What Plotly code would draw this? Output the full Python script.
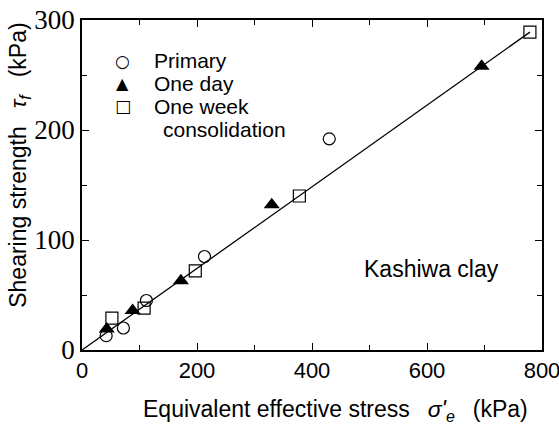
import plotly.graph_objects as go

# Data
primary_x = [42, 72, 112, 213, 430]
primary_y = [13, 20, 45, 85, 192]
oneday_x = [43, 88, 172, 330, 695]
oneday_y = [19, 36, 63, 132, 258]
oneweek_x = [52, 108, 197, 378, 779]
oneweek_y = [29, 38, 72, 140, 289]
fit_x = [0, 779]
fit_y = [0, 289]
x_ticks = [0, 200, 400, 600, 800]
y_ticks = [0, 100, 200, 300]

legend_symbols = ["○", "▲", "□"]
legend_labels = ["Primary", "One day", "One week"]
legend_extra = "consolidation"

SANS = "Liberation Sans, Arial, sans-serif"
SERIF = "Liberation Serif, Times New Roman, serif"

fig = go.Figure()
fig.add_trace(go.Scatter(x=fit_x, y=fit_y, mode="lines",
                         line=dict(color="black", width=1.3), showlegend=False, hoverinfo="skip"))
fig.add_trace(go.Scatter(x=primary_x, y=primary_y, mode="markers", name="Primary", showlegend=False,
                         marker=dict(symbol="circle-open", size=12, color="black", line=dict(width=1.2))))
fig.add_trace(go.Scatter(x=oneday_x, y=oneday_y, mode="markers", name="One day", showlegend=False,
                         marker=dict(symbol="triangle-up", size=14, color="black")))
fig.add_trace(go.Scatter(x=oneweek_x, y=oneweek_y, mode="markers", name="One week consolidation",
                         showlegend=False,
                         marker=dict(symbol="square-open", size=12, color="black", line=dict(width=1.2))))

# Legend drawn as text (rows at fixed paper positions)
row_y = [0.876, 0.807, 0.738]
sym_sizes = [17, 16, 17]
for sym, lab, yy, ss in zip(legend_symbols, legend_labels, row_y, sym_sizes):
    fig.add_annotation(xref="paper", yref="paper", x=0.089, y=yy, text=sym, showarrow=False,
                       xanchor="center", yanchor="middle",
                       font=dict(family="DejaVu Sans", size=ss, color="black"))
    fig.add_annotation(xref="paper", yref="paper", x=0.154, y=yy, text=lab, showarrow=False,
                       xanchor="left", yanchor="middle", borderpad=0,
                       font=dict(family=SANS, size=21, color="black"))
fig.add_annotation(xref="paper", yref="paper", x=0.174, y=0.669, text=legend_extra, showarrow=False,
                   xanchor="left", yanchor="middle", borderpad=0,
                   font=dict(family=SANS, size=21, color="black"))

fig.add_annotation(x=607, y=74, text="Kashiwa clay", showarrow=False,
                   font=dict(family=SANS, size=23, color="black"))

# Axis titles
fig.add_annotation(xref="paper", yref="paper", x=0.552, y=-0.182,
                   text="Equivalent effective stress \u2002<i>σ'<sub>e</sub></i> \u2002(kPa)",
                   showarrow=False, xanchor="center", yanchor="middle",
                   font=dict(family=SANS, size=23, color="black"))
fig.add_annotation(xref="paper", yref="paper", x=-0.135, y=0.561,
                   text="Shearing strength \u2002<i>τ<sub>f</sub></i> \u2002(kPa)",
                   showarrow=False, xanchor="center", yanchor="middle", textangle=-90,
                   font=dict(family=SANS, size=23, color="black"))

fig.update_layout(
    width=559, height=425,
    margin=dict(l=82, r=17, t=20, b=75),
    paper_bgcolor="white", plot_bgcolor="white",
    font=dict(family=SANS, color="black"),
    showlegend=False,
)
fig.update_xaxes(range=[0, 800], tickvals=x_ticks, ticks="inside", ticklen=7,
                 tickcolor="black", showline=True, linecolor="black", linewidth=1.5,
                 mirror="ticks", showgrid=False, zeroline=False, ticklabeloverflow="allow",
                 automargin=False,
                 tickfont=dict(family=SANS, size=22, color="black"),
                 minor=dict(dtick=100, ticks="inside", ticklen=5, tickcolor="black"))
fig.update_yaxes(range=[0, 300], tickvals=y_ticks, ticks="inside", ticklen=7,
                 tickcolor="black", showline=True, linecolor="black", linewidth=1.5,
                 mirror="ticks", showgrid=False, zeroline=False, ticklabeloverflow="allow",
                 automargin=False,
                 tickfont=dict(family=SERIF, size=27, color="black"),
                 minor=dict(dtick=50, ticks="inside", ticklen=5, tickcolor="black"))

fig.write_html("out.html")
